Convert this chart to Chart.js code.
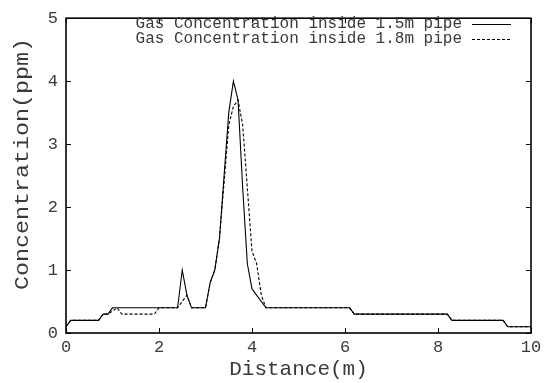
<!DOCTYPE html>
<html>
<head>
<meta charset="utf-8">
<script src="https://cdn.jsdelivr.net/npm/chart.js@4"></script>
<style>
  body { margin: 0; background: #fff; }
  canvas { display: block; }
</style>
</head>
<body>
<canvas id="chart" width="549" height="383"></canvas>
<script>
// Readings for the 1.5m pipe (distance in m, concentration in ppm)
const dist15 = [0, 0.1, 0.7, 0.8, 0.9, 1.0, 2.4, 2.5, 2.6, 2.7, 3.0, 3.1, 3.2, 3.3, 3.4, 3.5, 3.6, 3.7, 3.8, 3.9, 4.0, 4.3, 6.1, 6.2, 8.2, 8.3, 9.4, 9.5, 10];
const conc15 = [0.1, 0.2, 0.2, 0.3, 0.3, 0.4, 0.4, 1.0, 0.6, 0.4, 0.4, 0.8, 1.0, 1.5, 2.5, 3.5, 4.0, 3.7, 2.3, 1.1, 0.7, 0.4, 0.4, 0.3, 0.3, 0.2, 0.2, 0.1, 0.1];

// Readings for the 1.8m pipe
const dist18 = [0, 0.1, 0.7, 0.8, 0.9, 1.1, 1.2, 1.9, 2.0, 2.4, 2.6, 2.7, 3.0, 3.1, 3.2, 3.3, 3.4, 3.5, 3.6, 3.7, 3.8, 3.9, 4.0, 4.1, 4.2, 4.3, 6.1, 6.2, 8.2, 8.3, 9.4, 9.5, 10];
const conc18 = [0.1, 0.2, 0.2, 0.3, 0.3, 0.4, 0.3, 0.3, 0.4, 0.4, 0.6, 0.4, 0.4, 0.8, 1.0, 1.5, 2.4, 3.3, 3.6, 3.7, 3.3, 2.3, 1.3, 1.1, 0.6, 0.4, 0.4, 0.3, 0.3, 0.2, 0.2, 0.1, 0.1];

const seriesLabels = ['Gas Concentration inside 1.5m pipe', 'Gas Concentration inside 1.8m pipe'];
const xTicks = [0, 2, 4, 6, 8, 10];
const yTicks = [0, 1, 2, 3, 4, 5];
const yTitle = 'Concentration(ppm)';

const MONO = '"Liberation Mono", "DejaVu Sans Mono", monospace';
const TEXT = '#3a3a3a';

function toPoints(xs, ys) {
    return xs.map((x, i) => ({ x: x, y: ys[i] }));
}

// gnuplot style frame with inward ticks on all four sides, the key and the y title
const framePlugin = {
    id: 'frame',
    afterDraw(chart) {
        const ctx = chart.ctx;
        const { left, right, top, bottom } = chart.chartArea;
        const xs = chart.scales.x, ys = chart.scales.y;
        const tl = 5;

        ctx.save();
        ctx.strokeStyle = '#000';
        ctx.lineWidth = 1;
        ctx.beginPath();
        yTicks.forEach(v => {
            const y = Math.round(ys.getPixelForValue(v)) + 0.5;
            ctx.moveTo(left, y); ctx.lineTo(left + tl, y);
            ctx.moveTo(right, y); ctx.lineTo(right - tl, y);
        });
        xTicks.forEach(v => {
            const x = Math.round(xs.getPixelForValue(v)) + 0.5;
            ctx.moveTo(x, bottom); ctx.lineTo(x, bottom - tl);
            ctx.moveTo(x, top); ctx.lineTo(x, top + tl);
        });
        ctx.stroke();

        ctx.lineWidth = 1.6;
        ctx.strokeRect(left, top, right - left, bottom - top);

        // key, text right aligned with the sample line after it
        ctx.font = '16px ' + MONO;
        ctx.textAlign = 'right';
        ctx.textBaseline = 'middle';
        const rows = [24, 39];
        chart.data.datasets.forEach((ds, i) => {
            const y = rows[i];
            ctx.fillStyle = TEXT;
            ctx.fillText(ds.label, 462, y);
            ctx.strokeStyle = ds.borderColor;
            ctx.lineWidth = ds.borderWidth;
            ctx.setLineDash(ds.borderDash || []);
            ctx.beginPath();
            ctx.moveTo(472, y + 0.5);
            ctx.lineTo(511, y + 0.5);
            ctx.stroke();
        });
        ctx.setLineDash([]);

        // y title is stretched a bit along its length, like the original
        ctx.translate(22, 164);
        ctx.rotate(-Math.PI / 2);
        ctx.scale(1.11, 1);
        ctx.font = '21px ' + MONO;
        ctx.textAlign = 'center';
        ctx.fillStyle = TEXT;
        ctx.fillText(yTitle, 0, 0);
        ctx.restore();
    }
};

new Chart(document.getElementById('chart'), {
    type: 'line',
    data: {
        datasets: [
            {
                label: seriesLabels[0],
                data: toPoints(dist15, conc15),
                borderColor: '#000',
                borderWidth: 1.1,
                pointRadius: 0,
                tension: 0,
                fill: false
            },
            {
                label: seriesLabels[1],
                data: toPoints(dist18, conc18),
                borderColor: '#000',
                borderWidth: 1.1,
                borderDash: [3, 2],
                pointRadius: 0,
                tension: 0,
                fill: false
            }
        ]
    },
    options: {
        responsive: false,
        animation: false,
        layout: { padding: { top: 13, right: 18, left: 0, bottom: 0 } },
        plugins: {
            legend: { display: false },
            tooltip: { enabled: false }
        },
        scales: {
            x: {
                type: 'linear',
                min: 0,
                max: 10,
                afterBuildTicks: s => { s.ticks = xTicks.map(v => ({ value: v })); },
                afterFit: s => { s.height = 50; },
                grid: { display: false, drawTicks: false },
                border: { display: false },
                ticks: {
                    padding: 4,
                    color: TEXT,
                    font: { family: MONO, size: 17 },
                    maxRotation: 0
                },
                title: {
                    display: true,
                    text: 'Distance(m)',
                    color: TEXT,
                    font: { family: MONO, size: 21, lineHeight: 1.2 },
                    padding: { top: 0, bottom: 1 }
                }
            },
            y: {
                min: 0,
                max: 5,
                afterBuildTicks: s => { s.ticks = yTicks.map(v => ({ value: v })); },
                afterFit: s => { s.width = 66; },
                grid: { display: false, drawTicks: false },
                border: { display: false },
                ticks: {
                    padding: 8,
                    color: TEXT,
                    font: { family: MONO, size: 17 }
                },
                title: { display: false }
            }
        }
    },
    plugins: [framePlugin]
});
</script>
</body>
</html>
